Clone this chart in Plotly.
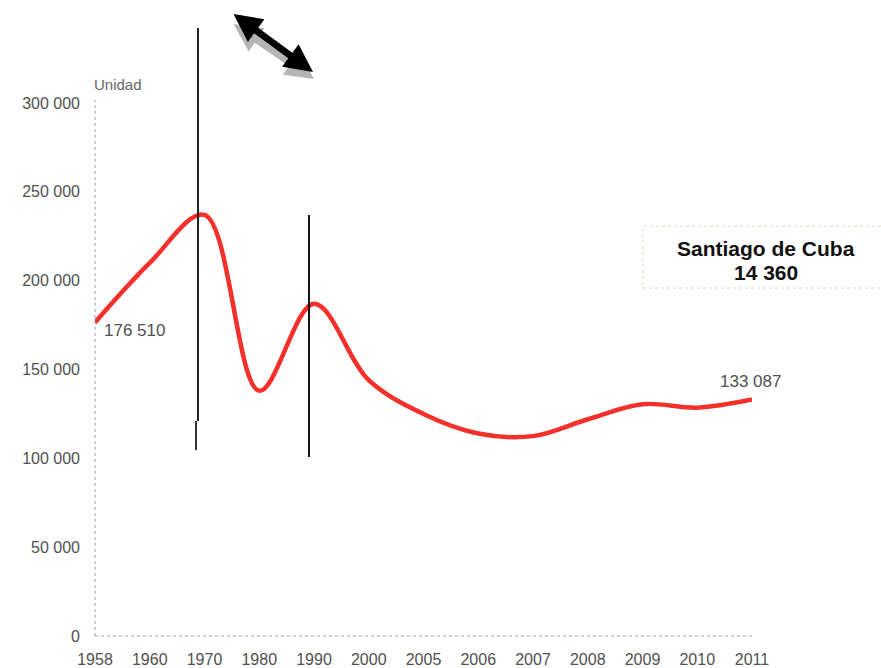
import plotly.graph_objects as go

years = ["1958", "1960", "1970", "1980", "1990", "2000", "2005", "2006",
         "2007", "2008", "2009", "2010", "2011"]
units = [176510, 210000, 237000, 138000, 187000, 144000, 125000, 114000,
         112500, 122000, 130500, 128500, 133087]
y_ticks = [0, 50000, 100000, 150000, 200000, 250000, 300000]
y_tick_text = ["0", "50 000", "100 000", "150 000", "200 000", "250 000", "300 000"]
first_label = "176 510"
last_label = "133 087"
box_title = "<b>Santiago de Cuba</b>"
box_value = "<b>14 360</b>"
unit_label = "Unidad"

L, R, T, B = 95, 129, 103, 32
W, H = 881, 668
PW, PH = W - L - R, H - T - B


def px(x):
    return (x - L) / PW


def py(y):
    return (H - B - y) / PH


FONT = "Liberation Sans, Arial, sans-serif"
TICK_COLOR = "#505050"

fig = go.Figure()
fig.add_trace(go.Scatter(
    x=years, y=units, mode="lines",
    line=dict(color="#f5302a", width=4.5, shape="spline", smoothing=1.0),
    hoverinfo="skip", showlegend=False,
))

shapes = [
    # dotted axes
    dict(type="line", xref="paper", yref="paper", x0=0, x1=0, y0=0, y1=py(100),
         line=dict(color="#9a9a9a", width=1, dash="dot")),
    dict(type="line", xref="paper", yref="paper", x0=0, x1=1, y0=0, y1=0,
         line=dict(color="#9a9a9a", width=1, dash="dot")),
    # vertical marker lines
    dict(type="line", xref="paper", yref="paper", x0=px(198), x1=px(198), y0=py(28), y1=py(421),
         line=dict(color="#222222", width=2)),
    dict(type="line", xref="paper", yref="paper", x0=px(196), x1=px(196), y0=py(421), y1=py(450),
         line=dict(color="#333333", width=2)),
    dict(type="line", xref="paper", yref="paper", x0=px(309), x1=px(309), y0=py(215), y1=py(457),
         line=dict(color="#111111", width=2)),
    # box
    dict(type="rect", xref="paper", yref="paper", x0=px(643), x1=px(890), y0=py(288), y1=py(226),
         line=dict(color="#e6d9bf", width=1, dash="dot"), fillcolor="white"),
]

first_idx = 0
last_idx = len(years) - 1

annotations = [
    dict(x=first_idx, y=units[first_idx], xref="x", yref="y", text=first_label, showarrow=False,
         xanchor="left", yanchor="middle", xshift=7, yshift=-8,
         font=dict(family=FONT, size=17, color=TICK_COLOR)),
    dict(x=last_idx, y=units[last_idx], xref="x", yref="y", text=last_label, showarrow=False,
         xanchor="center", yanchor="bottom", xshift=-2, yshift=7,
         font=dict(family=FONT, size=17, color=TICK_COLOR)),
    dict(x=px(92), y=py(84), xref="paper", yref="paper", text=unit_label, showarrow=False,
         xanchor="left", yanchor="middle",
         font=dict(family=FONT, size=15, color="#666666")),
    dict(x=px(766), y=py(248), xref="paper", yref="paper", text=box_title, showarrow=False,
         xanchor="center", yanchor="middle",
         font=dict(family=FONT, size=21, color="#111111")),
    dict(x=px(766), y=py(272), xref="paper", yref="paper", text=box_value, showarrow=False,
         xanchor="center", yanchor="middle",
         font=dict(family=FONT, size=21, color="#111111")),
    # arrow shadow
    dict(x=px(314), y=py(79), xref="paper", yref="paper", ax=-82, ay=-56, text="",
         showarrow=True, arrowside="end+start", arrowhead=2, arrowsize=0.8, arrowwidth=7,
         arrowcolor="#b5b5b5"),
    # arrow
    dict(x=px(313), y=py(72), xref="paper", yref="paper", ax=-81, ay=-59, text="",
         showarrow=True, arrowside="end+start", arrowhead=2, arrowsize=0.8, arrowwidth=7,
         arrowcolor="#000000"),
]

fig.update_layout(
    width=W, height=H,
    margin=dict(l=L, r=R, t=T, b=B, pad=0, autoexpand=False),
    paper_bgcolor="white", plot_bgcolor="white",
    showlegend=False,
    shapes=shapes,
    annotations=annotations,
    xaxis=dict(type="category", range=[0, len(years) - 1], showgrid=False, zeroline=False,
               showline=False, ticks="", tickfont=dict(family=FONT, size=16, color=TICK_COLOR),
               ticklabelstandoff=12, automargin=False, fixedrange=True),
    yaxis=dict(range=[0, 300000], tickvals=y_ticks, ticktext=y_tick_text, showgrid=False,
               zeroline=False, showline=False, ticks="",
               tickfont=dict(family=FONT, size=16, color=TICK_COLOR),
               ticklabelstandoff=14, automargin=False, fixedrange=True),
)

fig.write_html("out.html")
